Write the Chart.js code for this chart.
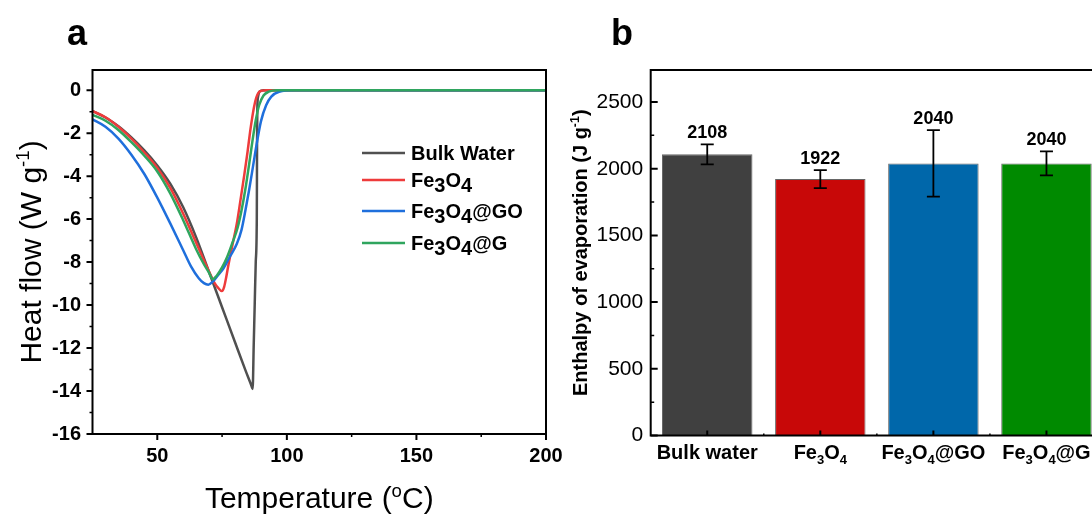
<!DOCTYPE html>
<html>
<head>
<meta charset="utf-8">
<script src="https://cdn.jsdelivr.net/npm/chart.js@4.4.1/dist/chart.umd.min.js"></script>
<style>
  html, body { margin: 0; padding: 0; background: #fff; overflow: hidden; }
  body { width: 1092px; height: 515px; position: relative; }
  #panelA { position: absolute; left: 0; top: 0; }
  #panelB { position: absolute; left: 560px; top: 0; }
</style>
</head>
<body>
<canvas id="panelA" width="580" height="515"></canvas>
<canvas id="panelB" width="560" height="515"></canvas>
<script>
// panel a - DSC heat flow curves (temperature in oC, heat flow in W/g)
const bulkT  = [25, 30, 35, 40, 45, 50, 55, 60, 65, 70, 75, 80, 84, 86.3, 86.8, 87.2, 87.6, 88.0, 88.4, 88.5, 88.6, 88.9, 89.5, 91, 200];
const bulkHF = [-0.97, -1.27, -1.68, -2.2, -2.8, -3.5, -4.35, -5.45, -6.85, -8.47, -10.1, -11.73, -13.03, -13.74, -13.9, -11.93, -9.95, -7.98, -6, -2.5, -0.9, -0.3, -0.06, 0, 0];

const fe3o4T  = [25, 30, 35, 40, 45, 50, 55, 60, 65, 70, 72, 73.5, 74.9, 75.8, 76.6, 77.5, 79, 80.7, 82, 83.5, 84.8, 85.8, 86.6, 87.3, 88.2, 89.2, 90.5, 92, 200];
const fe3o4HF = [-0.97, -1.26, -1.7, -2.25, -2.9, -3.62, -4.55, -5.75, -7.1, -8.45, -8.95, -9.2, -9.35, -9.15, -8.7, -8.1, -7.2, -6.2, -5.2, -4.0, -2.9, -1.95, -1.3, -0.8, -0.35, -0.1, -0.02, 0, 0];

const goT  = [25, 30, 35, 40, 45, 50, 55, 60, 63, 66, 68, 69.7, 71.5, 73.5, 75.5, 78, 80.7, 82.5, 84, 85.5, 87, 88.5, 90, 92, 94, 97, 103, 200];
const goHF = [-1.36, -1.7, -2.25, -3.0, -3.9, -5.0, -6.2, -7.45, -8.2, -8.75, -8.98, -9.05, -8.9, -8.6, -8.3, -7.75, -7.15, -6.5, -5.6, -4.6, -3.5, -2.4, -1.45, -0.7, -0.3, -0.07, 0, 0];

const gT  = [25, 30, 35, 40, 45, 50, 55, 60, 65, 68, 70, 71.4, 73, 75, 77, 79, 81, 82.5, 84, 85.5, 86.8, 88, 89.3, 91, 93, 96, 200];
const gHF = [-1.15, -1.42, -1.85, -2.42, -3.05, -3.78, -4.8, -6.05, -7.4, -8.1, -8.5, -8.8, -8.62, -8.25, -7.75, -7.1, -6.4, -5.6, -4.6, -3.4, -2.3, -1.4, -0.7, -0.25, -0.07, 0, 0];

const tempTicks = [50, 100, 150, 200];
const tempMinor = [75, 125, 175];
const heatTicks = [0, -2, -4, -6, -8, -10, -12, -14, -16];
const heatMinor = [-1, -3, -5, -7, -9, -11, -13, -15];

// panel b - enthalpy of evaporation (J/g)
const samples = ['Bulk water', 'Fe3O4', 'Fe3O4@GO', 'Fe3O4@G'];
const enthalpy = [2108, 1922, 2040, 2040];
const enthalpyErr = [75, 68, 250, 90];
const enthalpyTicks = [0, 500, 1000, 1500, 2000, 2500];
const enthalpyMinor = [250, 750, 1250, 1750, 2250];

const FONT = '"Liberation Sans", Arial, Helvetica, sans-serif';
const lineColors = { bulk: '#505050', fe3o4: '#ee3b3b', go: '#1f6fdc', g: '#2fa55e' };
const barColors = ['#404040', '#c80808', '#0067aa', '#008a00'];

// split "Fe3O4@GO" into text / subscript parts
function chemParts(s) {
  return s.split(/(\d+)/).filter(p => p !== '').map(p => ({ t: p, sub: /^\d+$/.test(p) }));
}

function drawRich(ctx, parts, x, y, o) {
  const fontFor = p => {
    let s = o.size;
    if (p.sub) s *= (o.subScale ?? 0.65);
    if (p.sup) s *= (o.supScale ?? 0.62);
    return (o.bold ? 'bold ' : '') + s + 'px ' + FONT;
  };
  let w = 0;
  parts.forEach(p => { ctx.font = fontFor(p); p.w = ctx.measureText(p.t).width; w += p.w; });
  let cx = o.align === 'center' ? x - w / 2 : (o.align === 'right' ? x - w : x);
  ctx.textAlign = 'left';
  ctx.textBaseline = 'alphabetic';
  parts.forEach(p => {
    ctx.font = fontFor(p);
    let dy = 0;
    if (p.sub) dy = o.size * (o.subDrop ?? 0.22);
    if (p.sup) dy = -o.size * (o.supRise ?? 0.4);
    ctx.fillText(p.t, cx, y + dy);
    cx += p.w;
  });
}

function tickMarks(ctx, chart, id, values, len, inward, width) {
  const sc = chart.scales[id];
  const a = chart.chartArea;
  ctx.save();
  ctx.strokeStyle = '#000';
  ctx.lineWidth = width;
  ctx.beginPath();
  values.forEach(v => {
    const p = sc.getPixelForValue(v);
    if (sc.isHorizontal()) {
      ctx.moveTo(p, a.bottom);
      ctx.lineTo(p, inward ? a.bottom - len : a.bottom + len);
    } else {
      ctx.moveTo(a.left, p);
      ctx.lineTo(inward ? a.left + len : a.left - len, p);
    }
  });
  ctx.stroke();
  ctx.restore();
}

function frame(ctx, chart) {
  const a = chart.chartArea;
  ctx.save();
  ctx.strokeStyle = '#000';
  ctx.lineWidth = 2;
  ctx.strokeRect(a.left, a.top, a.right - a.left, a.bottom - a.top);
  ctx.restore();
}

const plainNumber = v => String(v);

// ---------- panel a ----------
const curve = (label, T, HF, color) => ({
  label: label,
  data: T.map((t, i) => ({ x: t, y: HF[i] })),
  borderColor: color,
  borderWidth: 2.5,
  pointRadius: 0,
  fill: false,
  cubicInterpolationMode: 'monotone'
});

const legendItems = [
  { label: 'Bulk Water', color: lineColors.bulk },
  { label: 'Fe3O4', color: lineColors.fe3o4 },
  { label: 'Fe3O4@GO', color: lineColors.go },
  { label: 'Fe3O4@G', color: lineColors.g }
];

const decorA = {
  id: 'decorA',
  afterDraw(chart) {
    const ctx = chart.ctx;
    frame(ctx, chart);
    tickMarks(ctx, chart, 'x', tempTicks, 6, false, 2);
    tickMarks(ctx, chart, 'x', tempMinor, 3, false, 1.5);
    tickMarks(ctx, chart, 'y', heatTicks, 6, false, 2);
    tickMarks(ctx, chart, 'y', heatMinor, 3, false, 1.5);

    ctx.save();
    ctx.fillStyle = '#000';
    // axis titles
    drawRich(ctx, [{ t: 'Temperature (' }, { t: 'o', sup: true }, { t: 'C)' }],
      (chart.chartArea.left + chart.chartArea.right) / 2, 508, { size: 30, align: 'center', supRise: 0.36 });
    ctx.save();
    ctx.translate(41, (chart.chartArea.top + chart.chartArea.bottom) / 2);
    ctx.rotate(-Math.PI / 2);
    drawRich(ctx, [{ t: 'Heat flow (W g' }, { t: '-1', sup: true }, { t: ')' }], 0, 0, { size: 30, align: 'center', supRise: 0.4 });
    ctx.restore();

    // legend
    const rows = [153, 180, 211, 243];
    legendItems.forEach((it, i) => {
      ctx.strokeStyle = it.color;
      ctx.lineWidth = 2.5;
      ctx.beginPath();
      ctx.moveTo(362, rows[i]);
      ctx.lineTo(405, rows[i]);
      ctx.stroke();
      drawRich(ctx, chemParts(it.label), 411, rows[i] + 6.5, { size: 20, bold: true, subScale: 1, subDrop: 0.25 });
    });

    // panel letter
    ctx.font = 'bold 36px ' + FONT;
    ctx.textAlign = 'left';
    ctx.textBaseline = 'alphabetic';
    ctx.fillText('a', 67, 45);
    ctx.restore();
  }
};

new Chart(document.getElementById('panelA'), {
  type: 'line',
  data: {
    datasets: [
      curve('Fe3O4@G', gT, gHF, lineColors.g),
      curve('Fe3O4@GO', goT, goHF, lineColors.go),
      curve('Fe3O4', fe3o4T, fe3o4HF, lineColors.fe3o4),
      curve('Bulk Water', bulkT, bulkHF, lineColors.bulk)
    ]
  },
  options: {
    responsive: false,
    animation: false,
    layout: { padding: { top: 70, right: 34, left: 0, bottom: 0 } },
    plugins: { legend: { display: false }, tooltip: { enabled: false } },
    scales: {
      x: {
        type: 'linear', min: 25, max: 200,
        afterBuildTicks: s => { s.ticks = tempTicks.map(v => ({ value: v })); },
        afterFit: s => { s.height = 81; },
        grid: { display: false, drawTicks: false },
        border: { display: false },
        ticks: { color: '#000', padding: 10.5, maxRotation: 0, autoSkip: false, callback: plainNumber,
                 font: { family: FONT, size: 20, weight: 'bold' } }
      },
      y: {
        type: 'linear', min: -16, max: 0.94,
        afterBuildTicks: s => { s.ticks = heatTicks.map(v => ({ value: v })); },
        afterFit: s => { s.width = 92.5; },
        grid: { display: false, drawTicks: false },
        border: { display: false },
        ticks: { color: '#000', padding: 11.5, autoSkip: false, callback: plainNumber,
                 font: { family: FONT, size: 20, weight: 'bold' } }
      }
    }
  },
  plugins: [decorA]
});

// ---------- panel b ----------
const decorB = {
  id: 'decorB',
  afterDatasetsDraw(chart) {
    const ctx = chart.ctx;
    const y = chart.scales.y;
    const meta = chart.getDatasetMeta(0);
    ctx.save();
    ctx.strokeStyle = '#000';
    ctx.fillStyle = '#000';
    ctx.lineWidth = 1.8;
    meta.data.forEach((bar, i) => {
      const top = y.getPixelForValue(enthalpy[i] + enthalpyErr[i]);
      const bot = y.getPixelForValue(enthalpy[i] - enthalpyErr[i]);
      ctx.beginPath();
      ctx.moveTo(bar.x, top); ctx.lineTo(bar.x, bot);
      ctx.moveTo(bar.x - 6.5, top); ctx.lineTo(bar.x + 6.5, top);
      ctx.moveTo(bar.x - 6.5, bot); ctx.lineTo(bar.x + 6.5, bot);
      ctx.stroke();
      ctx.font = 'bold 18px ' + FONT;
      ctx.textAlign = 'center';
      ctx.textBaseline = 'middle';
      ctx.fillText(String(enthalpy[i]), bar.x, top - 11);
    });
    ctx.restore();
  },
  afterDraw(chart) {
    const ctx = chart.ctx;
    const x = chart.scales.x;
    frame(ctx, chart);
    tickMarks(ctx, chart, 'y', enthalpyTicks, 7, true, 2);
    tickMarks(ctx, chart, 'y', enthalpyMinor, 3.5, true, 1.5);
    tickMarks(ctx, chart, 'x', samples.map((s, i) => i), 5, true, 2);
    tickMarks(ctx, chart, 'x', samples.slice(1).map((s, i) => i + 0.5), 2, true, 1.5);

    ctx.save();
    ctx.fillStyle = '#000';
    samples.forEach((s, i) => {
      drawRich(ctx, chemParts(s), x.getPixelForValue(i), 459, { size: 20, bold: true, align: 'center', subScale: 0.65, subDrop: 0.24 });
    });
    ctx.save();
    ctx.translate(27, (chart.chartArea.top + chart.chartArea.bottom) / 2);
    ctx.rotate(-Math.PI / 2);
    drawRich(ctx, [{ t: 'Enthalpy of evaporation (J g' }, { t: '-1', sup: true }, { t: ')' }], 0, 0, { size: 20, bold: true, align: 'center', supRise: 0.42 });
    ctx.restore();
    ctx.font = 'bold 36px ' + FONT;
    ctx.textAlign = 'left';
    ctx.textBaseline = 'alphabetic';
    ctx.fillText('b', 51, 45);
    ctx.restore();
  }
};

new Chart(document.getElementById('panelB'), {
  type: 'bar',
  data: {
    labels: samples,
    datasets: [{
      data: enthalpy,
      backgroundColor: barColors,
      borderColor: 'rgba(0,0,0,0.6)',
      borderWidth: 1,
      categoryPercentage: 1,
      barPercentage: 0.8
    }]
  },
  options: {
    responsive: false,
    animation: false,
    layout: { padding: { top: 70, right: 17, left: 0, bottom: 0 } },
    plugins: { legend: { display: false }, tooltip: { enabled: false } },
    scales: {
      x: {
        afterFit: s => { s.height = 79.5; },
        grid: { display: false, drawTicks: false },
        border: { display: false },
        ticks: { display: false }
      },
      y: {
        min: 0, max: 2740,
        afterBuildTicks: s => { s.ticks = enthalpyTicks.map(v => ({ value: v })); },
        afterFit: s => { s.width = 90.7; },
        grid: { display: false, drawTicks: false },
        border: { display: false },
        ticks: { color: '#000', padding: 7.5, autoSkip: false, callback: plainNumber,
                 font: { family: FONT, size: 21 } }
      }
    }
  },
  plugins: [decorB]
});
</script>
</body>
</html>
